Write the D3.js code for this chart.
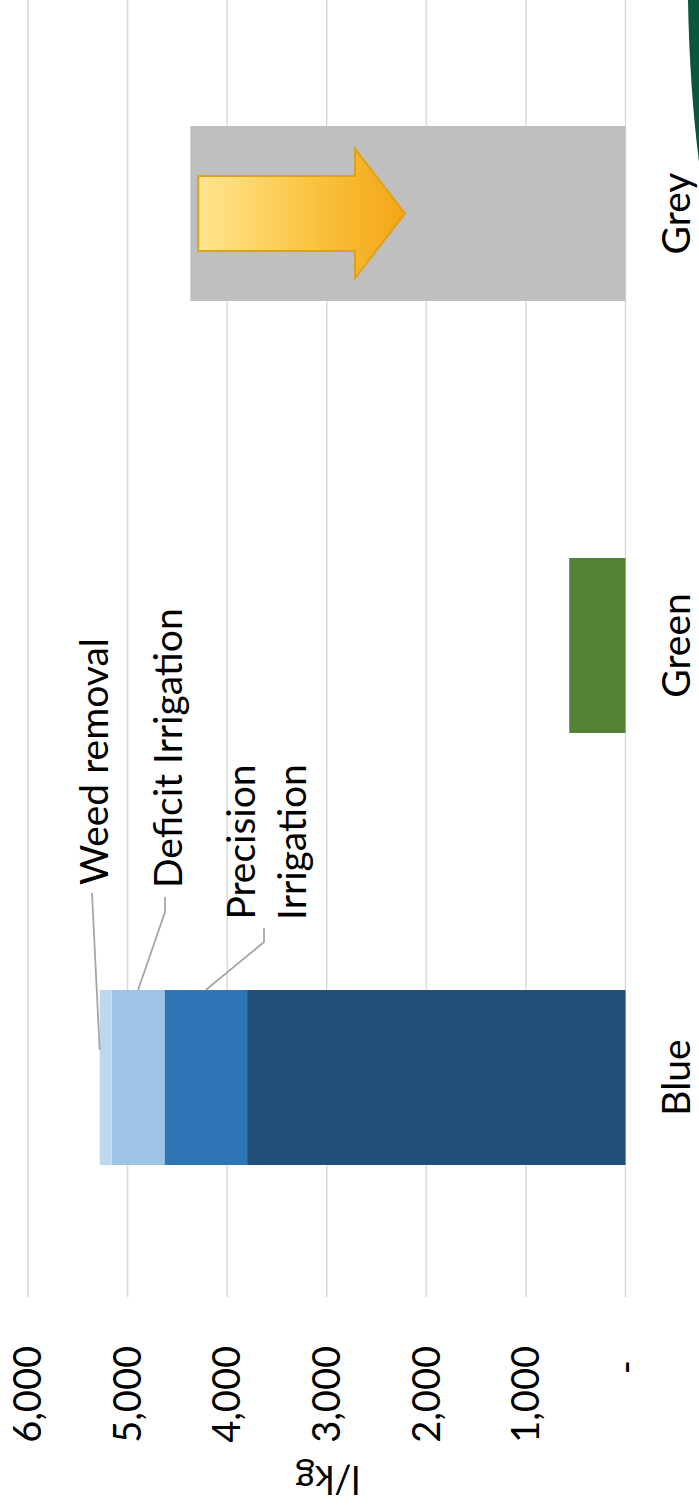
<!DOCTYPE html>
<html>
<head>
<meta charset="utf-8">
<script src="https://cdn.jsdelivr.net/npm/d3@7"></script>
<style>
  html, body { margin: 0; padding: 0; background: #ffffff; }
  svg { display: block; }
  text { font-family: Lato, "Open Sans", sans-serif; fill: #000; }
</style>
</head>
<body>
<svg id="chart" width="699" height="1509"></svg>
<script>
// ---- data ----
const categories = ["Blue", "Green", "Grey"];
const baseValues = [3800, 565, 4370];
const baseColors = ["#1f4e79", "#548235", "#bfbfbf"];
const savingNames = ["Precision Irrigation", "Deficit Irrigation", "Weed removal"];
const savingValues = [830, 530, 120];
const savingColors = ["#2e75b6", "#9dc3e6", "#bdd7ee"];
const yTicks = [0, 1000, 2000, 3000, 4000, 5000, 6000];
const axisTitle = "l/kg";
const arrowFrom = 4290, arrowHeadBase = 2716, arrowTip = 2214;

const W = 699, H = 1509;
const svg = d3.select("#chart");
svg.append("rect").attr("width", W).attr("height", H).attr("fill", "#fff");

// The whole column chart is rotated -90 degrees on the page.
const g = svg.append("g").attr("transform", `translate(0,${H}) rotate(-90)`);

const x = d3.scaleBand().domain(categories).range([215.5, 1511.5])
  .paddingInner(0.595).paddingOuter(0.2975);
const y = d3.scaleLinear().domain([0, 6000]).range([625.5, 28]);

const FS = 39, FT = 38;

// gridlines
g.selectAll("line.grid").data(yTicks).join("line")
  .attr("class", "grid")
  .attr("x1", 212).attr("x2", 1530)
  .attr("y1", d => y(d)).attr("y2", d => y(d))
  .attr("stroke", "#d9d9d9").attr("stroke-width", 1.5);

// tick labels
const fmt = d => d === 0 ? "-" : d3.format(",")(d);
g.selectAll("text.tick").data(yTicks).join("text")
  .attr("class", "tick")
  .attr("x", 1509 - 1346).attr("y", d => y(d))
  .attr("dx", d => d === 0 ? -14 : 0)
  .attr("dy", "0.35em")
  .attr("text-anchor", "end")
  .attr("font-size", FT)
  .text(fmt);

// axis title
g.append("text")
  .attr("transform", `translate(43,${y(3000) + 1}) rotate(-90)`)
  .attr("text-anchor", "middle")
  .attr("font-size", FT)
  .text(axisTitle);

// base bars
g.selectAll("rect.base").data(categories).join("rect")
  .attr("class", "base")
  .attr("x", d => x(d))
  .attr("width", x.bandwidth())
  .attr("y", (d, i) => y(baseValues[i]))
  .attr("height", (d, i) => y(0) - y(baseValues[i]))
  .attr("fill", (d, i) => baseColors[i]);

// stacked savings on Blue
let cum = baseValues[0];
const segs = savingValues.map((v, i) => {
  const s = { name: savingNames[i], y0: cum, y1: cum + v, color: savingColors[i] };
  cum += v;
  return s;
});
g.selectAll("rect.seg").data(segs).join("rect")
  .attr("class", "seg")
  .attr("x", x("Blue"))
  .attr("width", x.bandwidth())
  .attr("y", d => y(d.y1))
  .attr("height", d => y(d.y0) - y(d.y1))
  .attr("fill", d => d.color);

// category labels
g.selectAll("text.cat").data(categories).join("text")
  .attr("class", "cat")
  .attr("x", d => x(d) + x.bandwidth() / 2)
  .attr("y", 690)
  .attr("text-anchor", "middle")
  .attr("font-size", FS)
  .text(d => d);

// callout labels with leader lines
const bx1 = x("Blue") + x.bandwidth();
const mid = s => (y(s.y0) + y(s.y1)) / 2;
const leaderColor = "#a6a6a6";
const line = d3.line();
// Precision Irrigation
g.append("path").attr("fill", "none").attr("stroke", leaderColor).attr("stroke-width", 1.8)
  .attr("d", line([[bx1 + 62, 264], [bx1 + 48, 264], [bx1, mid(segs[0])]]));
g.append("text").attr("x", bx1 + 148).attr("y", 255).attr("text-anchor", "middle")
  .attr("font-size", FS).text("Precision");
g.append("text").attr("x", bx1 + 148).attr("y", 306).attr("text-anchor", "middle")
  .attr("font-size", FS).text("Irrigation");
// Deficit Irrigation
g.append("path").attr("fill", "none").attr("stroke", leaderColor).attr("stroke-width", 1.8)
  .attr("d", line([[bx1 + 93, 165], [bx1 + 78, 165], [bx1, mid(segs[1])]]));
g.append("text").attr("x", bx1 + 102).attr("y", 182).attr("text-anchor", "start")
  .attr("font-size", FS).text("Deficit Irrigation");
// Weed removal
g.append("path").attr("fill", "none").attr("stroke", leaderColor).attr("stroke-width", 1.8)
  .attr("d", line([[bx1 + 97, 92], [bx1 - 60, y(segs[2].y1)]]));
g.append("text").attr("x", bx1 + 105).attr("y", 108).attr("text-anchor", "start")
  .attr("font-size", FS).text("Weed removal");

// arrow annotation inside the Grey bar
const defs = svg.append("defs");
const uc = x("Grey") + x.bandwidth() / 2;
const grad = defs.append("linearGradient").attr("id", "arrowGrad")
  .attr("gradientUnits", "userSpaceOnUse")
  .attr("x1", uc).attr("y1", y(arrowFrom)).attr("x2", uc).attr("y2", y(arrowTip));
grad.append("stop").attr("offset", "0%").attr("stop-color", "#ffe58f");
grad.append("stop").attr("offset", "55%").attr("stop-color", "#f9c440");
grad.append("stop").attr("offset", "100%").attr("stop-color", "#f3a516");
const bw = 37.5, hw = 64.5;
g.append("path")
  .attr("d", line([
    [uc + bw, y(arrowFrom)], [uc + bw, y(arrowHeadBase)], [uc + hw, y(arrowHeadBase)],
    [uc, y(arrowTip)],
    [uc - hw, y(arrowHeadBase)], [uc - bw, y(arrowHeadBase)], [uc - bw, y(arrowFrom)]
  ]) + "Z")
  .attr("fill", "url(#arrowGrad)")
  .attr("stroke", "#dba21e").attr("stroke-width", 2).attr("stroke-linejoin", "miter");

// decorative dark green swoosh at top-right corner
svg.append("path")
  .attr("d", "M688,0 C689,60 693,115 699,162 L699,0 Z")
  .attr("fill", "#0b573b");
</script>
</body>
</html>
